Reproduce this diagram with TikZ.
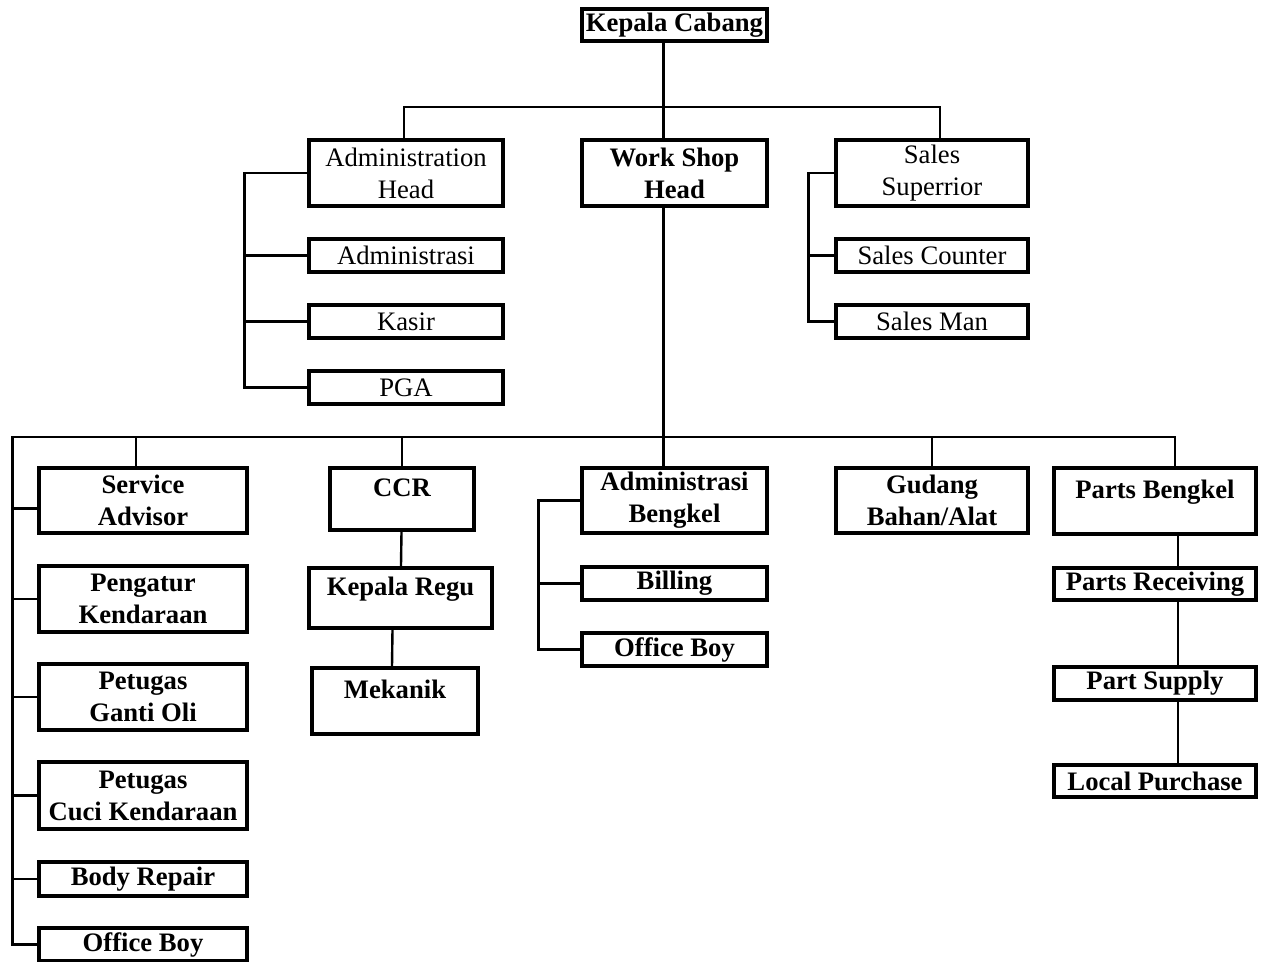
\documentclass[tikz,border=0pt]{standalone}
\usepackage{fontspec}
\setmainfont{Liberation Serif}
\usepackage{tikz}
\usetikzlibrary{calc,positioning}

\begin{document}
\begin{tikzpicture}[
  x=0.75pt, y=-0.75pt,
  box/.style={draw, line width=2.4pt, inner sep=0pt, align=center,
    font=\fontsize{20}{24}\selectfont\bfseries},
  plain/.style={box, font=\fontsize{20}{24}\selectfont},
  toptext/.style={text height=20pt, text depth=24pt},
  sz/.style 2 args={minimum width=#1*0.75pt, minimum height=#2*0.75pt},
  link/.style={line width=1.8pt},
]
  \useasboundingbox (0,0) rectangle (1263,961);
  % Top
  \node[box, sz={185}{32}] (kc) at (674.5,25) {Kepala Cabang};
  \node[plain, sz={194}{66}] (adm) at (406,173) {Administration\\Head};
  \node[box, sz={185}{66}] (wsh) at (674.5,173) {Work Shop\\Head};
  \node[plain, sz={192}{66}] (ss) at (932,173) {Sales\\Superrior};
  \node[plain, sz={194}{33}] (adms) at (406,255.5) {Administrasi};
  \node[plain, sz={194}{33}] (kasir) at (406,321.5) {Kasir};
  \node[plain, sz={194}{33}] (pga) at (406,387.5) {PGA};
  \node[plain, sz={192}{33}] (sc) at (932,255.5) {Sales Counter};
  \node[plain, sz={192}{33}] (sm) at (932,321.5) {Sales Man};
  % Bottom row
  \node[box, sz={208}{65}] (sa) at (143,500.5) {Service\\Advisor};
  \node[box, sz={208}{66}] (pk) at (143,599) {Pengatur\\Kendaraan};
  \node[box, sz={208}{66}] (pgo) at (143,697) {Petugas\\Ganti Oli};
  \node[box, sz={208}{67}] (pck) at (143,795.5) {Petugas\\Cuci Kendaraan};
  \node[box, sz={208}{34}] (br) at (143,879) {Body Repair};
  \node[box, sz={208}{33}] (ob1) at (143,944.5) {Office Boy};
  \node[box, toptext, sz={144}{62}] (ccr) at (402,499) {CCR};
  \node[box, toptext, sz={183}{60}] (kr) at (400.5,598) {Kepala Regu};
  \node[box, toptext, sz={166}{66}] (mek) at (395,701) {Mekanik};
  \node[box, sz={185}{65}] (ab) at (674.5,500.5) {Administrasi\\Bengkel};
  \node[box, sz={185}{33}] (bil) at (674.5,583.5) {Billing};
  \node[box, sz={185}{33}] (ob2) at (674.5,649.5) {Office Boy};
  \node[box, sz={192}{65}] (gud) at (932,500.5) {Gudang\\Bahan/Alat};
  \node[box, toptext, sz={202}{66}] (pb) at (1155,501) {Parts Bengkel};
  \node[box, sz={202}{32}] (pr) at (1155,584) {Parts Receiving};
  \node[box, sz={202}{33}] (ps) at (1155,683.5) {Part Supply};
  \node[box, sz={202}{32}] (lp) at (1155,781) {Local Purchase};
  % Lines
  \coordinate (bus1) at (663,107);
  \coordinate (bus2) at (663,437);
  \draw[link] ($(kc.south)+(-11,0)$) -- ($(wsh.north)+(-11,0)$);
  \draw[link] ($(wsh.south)+(-11,0)$) -- ($(ab.north)+(-11,0)$);
  \draw[link] ($(adm.north)+(-2,0)$) |- (bus1) -| ($(ss.north)+(8,0)$);
  \draw[link] (adm.west) -- ++(-63,0) |- (pga.west);
  \foreach \n in {adms,kasir}
    \draw[link] (\n.west) -- ++(-63,0);
  \draw[link] (ss.west) -- ++(-26,0) |- (sm.west);
  \draw[link] (sc.west) -- ++(-26,0);
  \draw[link] (ob1.west) -- ++(-25,0) |- (bus2) -| ($(pb.north)+(20,0)$);
  \foreach \n in {pk,pgo,pck,br}
    \draw[link] (\n.west) -- ++(-25,0);
  \draw[link] ([yshift=-6pt]sa.west) -- ++(-25,0);
  \draw[link] ($(sa.north)+(-7,0)$) -- ($(sa.north |- bus2)+(-7,0)$);
  \foreach \n in {ccr,gud}
    \draw[link] (\n.north) -- (\n.north |- bus2);
  \draw[link] (ccr) -- (kr);
  \draw[link] ($(kr.south)+(-8,0)$) -- ($(mek.north)+(-3,0)$);
  \draw[link] (ab.west) -- ++(-42,0) |- (ob2.west);
  \draw[link] (bil.west) -- ++(-42,0);
  \draw[link] ($(pb.south)+(23,0)$) -- ($(pr.north)+(23,0)$);
  \draw[link] ($(pr.south)+(23,0)$) -- ($(ps.north)+(23,0)$);
  \draw[link] ($(ps.south)+(23,0)$) -- ($(lp.north)+(23,0)$);
\end{tikzpicture}
\end{document}
